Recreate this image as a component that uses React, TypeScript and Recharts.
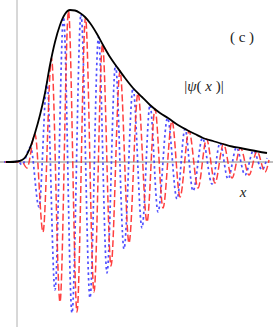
import React from 'react';
import { LineChart, Line, XAxis, YAxis, ReferenceLine } from 'recharts';

// envelope |psi(x)|
const envX = [-1.1, -0.7, 0, 0.5, 0.8, 1.3, 1.8, 2.3, 2.8, 3.3, 3.8, 4.3, 4.8, 5.3, 5.8, 6.3, 6.8, 7.3, 8.0, 8.6, 9.3, 10.0, 10.8, 11.6, 12.5, 13.3, 14.3, 15.1, 16.1, 17.0, 17.8, 18.6, 19.6, 20.6, 21.5, 22.3, 23.3, 24.1, 25.0];
const envY = [0, 0, 0.005, 0.02, 0.045, 0.14, 0.29, 0.47, 0.69, 0.97, 1.2, 1.37, 1.48, 1.52, 1.515, 1.49, 1.45, 1.39, 1.28, 1.17, 1.05, 0.95, 0.84, 0.74, 0.65, 0.57, 0.49, 0.44, 0.37, 0.32, 0.28, 0.24, 0.21, 0.18, 0.155, 0.14, 0.12, 0.105, 0.09];

// red dashed (peaks and troughs)
const reX = [-1.2, 0, 0.4, 1.0, 1.8, 2.6, 3.45, 4.3, 5.15, 6.0, 6.85, 7.7, 8.55, 9.4, 10.3, 11.2, 12.1, 13.0, 13.8, 14.6, 15.5, 16.3, 17.2, 18.1, 18.95, 19.8, 20.65, 21.5, 22.35, 23.2, 24.0, 24.8, 25.2];
const reY = [0, 0, 0.015, -0.06, 0.28, -0.7, 1.04, -1.4, 1.51, -1.5, 1.445, -1.3, 1.18, -1.04, 0.91, -0.81, 0.69, -0.6, 0.53, -0.46, 0.41, -0.35, 0.31, -0.26, 0.23, -0.21, 0.18, -0.16, 0.14, -0.13, 0.107, -0.1, 0.02];

// blue dotted
const imX = [-1.3, -0.3, 0.1, 0.5, 1.35, 2.2, 3.0, 3.8, 4.65, 5.5, 6.4, 7.3, 8.15, 9.0, 9.85, 10.7, 11.6, 12.5, 13.3, 14.1, 15.05, 16.0, 16.8, 17.6, 18.55, 19.5, 20.3, 21.1, 21.95, 22.8, 23.65, 24.5, 25.0];
const imY = [0, 0, 0.01, -0.03, 0.15, -0.45, 0.8, -1.28, 1.45, -1.51, 1.48, -1.36, 1.25, -1.11, 0.97, -0.87, 0.74, -0.66, 0.57, -0.5, 0.44, -0.37, 0.33, -0.29, 0.24, -0.22, 0.19, -0.17, 0.145, -0.13, 0.115, -0.08, 0.04];

const toPts = (xs: number[], ys: number[]) => xs.map((x, i) => ({ x, y: ys[i] }));

const envelope = toPts(envX, envY);
const realPart = toPts(reX, reY);
const imagPart = toPts(imX, imY);

const serif: React.CSSProperties = { fontFamily: "'Liberation Serif', 'DejaVu Serif', serif" };

export default function App() {
  return (
    <div style={{ position: 'absolute', left: 0, top: 0 }}>
      <LineChart width={273} height={327} margin={{ top: 0, right: 0, bottom: 0, left: 0 }}>
        <XAxis type="number" dataKey="x" domain={[-1.7, 25.6]} allowDataOverflow hide />
        <YAxis type="number" domain={[-1.65, 1.62]} allowDataOverflow hide />
        <ReferenceLine x={0} stroke="#b0b0b0" strokeWidth={1} />
        <ReferenceLine y={0} stroke="#808080" strokeWidth={1} />
        <Line data={imagPart} dataKey="y" type="monotone" stroke="#3030ff" strokeOpacity={0.85} strokeWidth={1.7}
          strokeDasharray="2.5 3" dot={false} activeDot={false} isAnimationActive={false} />
        <Line data={realPart} dataKey="y" type="monotone" stroke="#ff2a2a" strokeOpacity={0.9} strokeWidth={1.5}
          strokeDasharray="7 3" dot={false} activeDot={false} isAnimationActive={false} />
        <Line data={envelope} dataKey="y" type="monotone" stroke="#000" strokeWidth={1.8}
          dot={false} activeDot={false} isAnimationActive={false} />
        <text x={242} y={42} textAnchor="middle" style={serif} fontSize={15} fill="#222">( c )</text>
        <text x={204} y={91} textAnchor="middle" style={serif} fontSize={15} fill="#222">
          |<tspan fontStyle="italic">ψ</tspan>( <tspan fontStyle="italic">x</tspan> )|
        </text>
        <text x={243} y={197} textAnchor="middle" style={serif} fontSize={15} fontStyle="italic" fill="#222">x</text>
      </LineChart>
    </div>
  );
}
